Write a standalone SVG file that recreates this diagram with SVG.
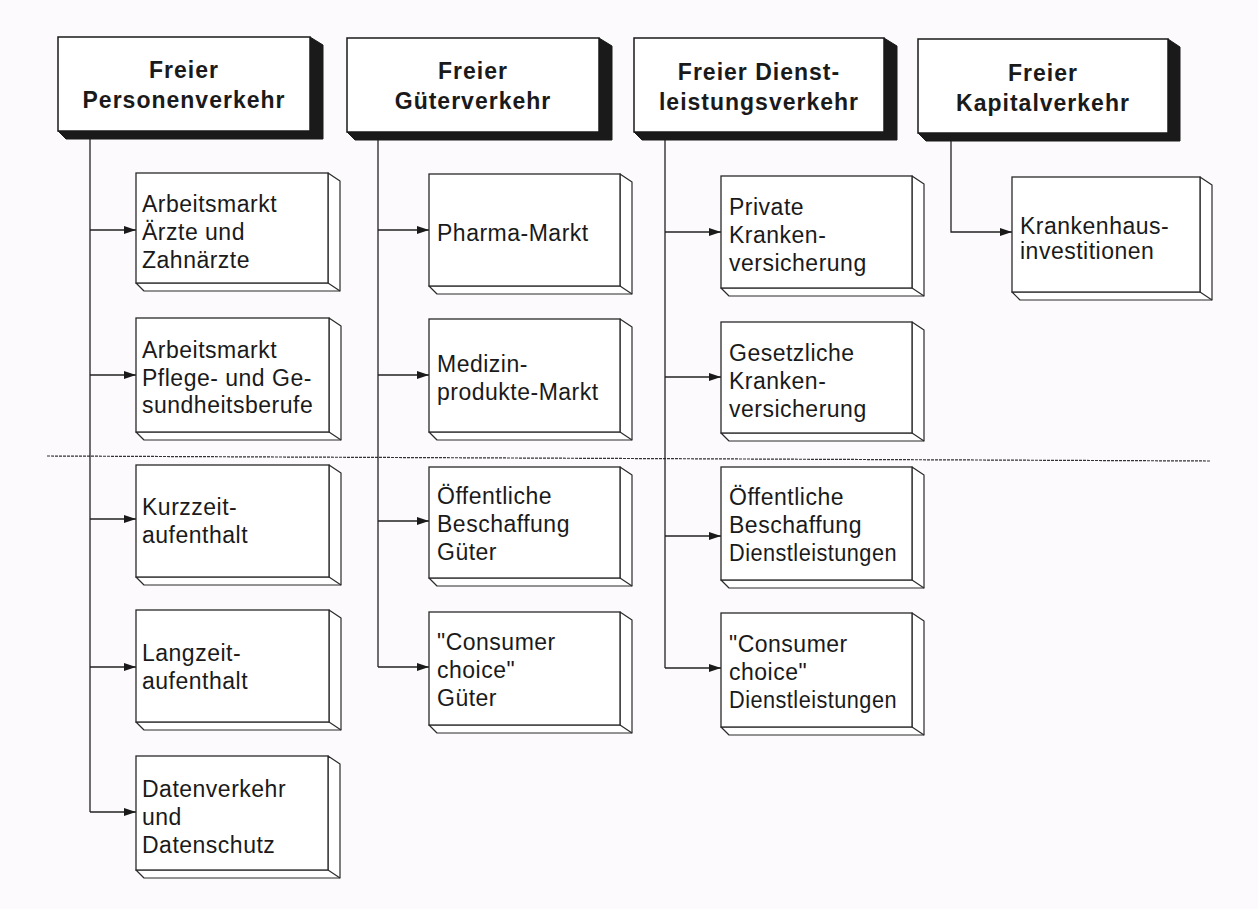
<svg xmlns="http://www.w3.org/2000/svg" width="1258" height="909" viewBox="0 0 1258 909">
<style>
.bg{fill:#fdfafd}
.hf{fill:#fff;stroke:#1a1a1a;stroke-width:1.5}
.hs{fill:#1a1a1a;stroke:#1a1a1a;stroke-width:1}
.cf{fill:#fff;stroke:#2a2a2a;stroke-width:1.3}
.ce{fill:#fff;stroke:#2a2a2a;stroke-width:1.2;stroke-linejoin:round}
.ht{font-family:"Liberation Sans",Arial,sans-serif;font-weight:bold;font-size:23px;letter-spacing:1px;fill:#1a1a1a;text-anchor:middle}
.ct{font-family:"Liberation Sans",Arial,sans-serif;font-size:23px;letter-spacing:0.5px;fill:#1a1a1a}
.ln{fill:none;stroke:#222;stroke-width:1.3}
.sep{stroke:#333;stroke-width:1.2;stroke-dasharray:3 1}
</style>
<defs>
<marker id="ar" viewBox="0 0 12 8" refX="12" refY="4" markerWidth="12" markerHeight="8" markerUnits="userSpaceOnUse" orient="auto">
<path d="M0,0 L12,4 L0,8 Z" fill="#1a1a1a"/>
</marker>
</defs>
<rect class="bg" width="1258" height="909"/>
<line class="sep" x1="47" y1="456" x2="1210" y2="461"/>

<g id="connectors">
<path class="ln" d="M90,131 V812"/>
<path class="ln" d="M90,230 H136" marker-end="url(#ar)"/>
<path class="ln" d="M90,375 H136" marker-end="url(#ar)"/>
<path class="ln" d="M90,519 H136" marker-end="url(#ar)"/>
<path class="ln" d="M90,667 H136" marker-end="url(#ar)"/>
<path class="ln" d="M90,812 H136" marker-end="url(#ar)"/>
<path class="ln" d="M378,133 V667"/>
<path class="ln" d="M378,230 H429" marker-end="url(#ar)"/>
<path class="ln" d="M378,375 H429" marker-end="url(#ar)"/>
<path class="ln" d="M378,521 H429" marker-end="url(#ar)"/>
<path class="ln" d="M378,667 H429" marker-end="url(#ar)"/>
<path class="ln" d="M665,133 V668"/>
<path class="ln" d="M665,232 H721" marker-end="url(#ar)"/>
<path class="ln" d="M665,377 H721" marker-end="url(#ar)"/>
<path class="ln" d="M665,536 H721" marker-end="url(#ar)"/>
<path class="ln" d="M665,668 H721" marker-end="url(#ar)"/>
<path class="ln" d="M951,134 V232 H1012" marker-end="url(#ar)"/>
</g>

<g id="h1">
<polygon class="hs" points="310,37 323,45 323,139 66,139 58,131 310,131"/>
<rect class="hf" x="58" y="37" width="252" height="94"/>
<text class="ht" x="184" y="78">Freier</text>
<text class="ht" x="184" y="108">Personenverkehr</text>
</g>
<g id="h2">
<polygon class="hs" points="599,38 612,46 612,140 355,140 347,132 599,132"/>
<rect class="hf" x="347" y="38" width="252" height="94"/>
<text class="ht" x="473" y="79">Freier</text>
<text class="ht" x="473" y="109">Güterverkehr</text>
</g>
<g id="h3">
<polygon class="hs" points="884,38 897,46 897,140 642,140 634,132 884,132"/>
<rect class="hf" x="634" y="38" width="250" height="94"/>
<text class="ht" x="759" y="80">Freier Dienst-</text>
<text class="ht" x="759" y="110">leistungsverkehr</text>
</g>
<g id="h4">
<polygon class="hs" points="1168,39 1180,47 1180,141 926,141 918,133 1168,133"/>
<rect class="hf" x="918" y="39" width="250" height="94"/>
<text class="ht" x="1043" y="81">Freier</text>
<text class="ht" x="1043" y="111">Kapitalverkehr</text>
</g>

<g id="c1r1">
<polygon class="ce" points="328,173 340,181 340,291 144,291 136,283 328,283"/>
<line class="ce" x1="328" y1="283" x2="340" y2="291"/>
<rect class="cf" x="136" y="173" width="192" height="110"/>
<text class="ct" x="142" y="212">Arbeitsmarkt</text>
<text class="ct" x="142" y="240">Ärzte und</text>
<text class="ct" x="142" y="268">Zahnärzte</text>
</g>
<g id="c1r2">
<polygon class="ce" points="329,318 341,326 341,440 144,440 136,432 329,432"/>
<line class="ce" x1="329" y1="432" x2="341" y2="440"/>
<rect class="cf" x="136" y="318" width="193" height="114"/>
<text class="ct" x="142" y="358">Arbeitsmarkt</text>
<text class="ct" x="142" y="386">Pflege- und Ge-</text>
<text class="ct" x="142" y="413">sundheitsberufe</text>
</g>
<g id="c1r3">
<polygon class="ce" points="329,465 341,473 341,585 144,585 136,577 329,577"/>
<line class="ce" x1="329" y1="577" x2="341" y2="585"/>
<rect class="cf" x="136" y="465" width="193" height="112"/>
<text class="ct" x="142" y="515">Kurzzeit-</text>
<text class="ct" x="142" y="543">aufenthalt</text>
</g>
<g id="c1r4">
<polygon class="ce" points="329,610 341,618 341,730 144,730 136,722 329,722"/>
<line class="ce" x1="329" y1="722" x2="341" y2="730"/>
<rect class="cf" x="136" y="610" width="193" height="112"/>
<text class="ct" x="142" y="661">Langzeit-</text>
<text class="ct" x="142" y="689">aufenthalt</text>
</g>
<g id="c1r5">
<polygon class="ce" points="328,756 340,764 340,878 144,878 136,870 328,870"/>
<line class="ce" x1="328" y1="870" x2="340" y2="878"/>
<rect class="cf" x="136" y="756" width="192" height="114"/>
<text class="ct" x="142" y="797">Datenverkehr</text>
<text class="ct" x="142" y="825">und</text>
<text class="ct" x="142" y="853">Datenschutz</text>
</g>

<g id="c2r1">
<polygon class="ce" points="620,174 632,182 632,294 437,294 429,286 620,286"/>
<line class="ce" x1="620" y1="286" x2="632" y2="294"/>
<rect class="cf" x="429" y="174" width="191" height="112"/>
<text class="ct" x="437" y="241">Pharma-Markt</text>
</g>
<g id="c2r2">
<polygon class="ce" points="620,319 632,327 632,440 437,440 429,432 620,432"/>
<line class="ce" x1="620" y1="432" x2="632" y2="440"/>
<rect class="cf" x="429" y="319" width="191" height="113"/>
<text class="ct" x="437" y="372">Medizin-</text>
<text class="ct" x="437" y="400">produkte-Markt</text>
</g>
<g id="c2r3">
<polygon class="ce" points="620,467 632,475 632,586 437,586 429,578 620,578"/>
<line class="ce" x1="620" y1="578" x2="632" y2="586"/>
<rect class="cf" x="429" y="467" width="191" height="111"/>
<text class="ct" x="437" y="504">Öffentliche</text>
<text class="ct" x="437" y="532">Beschaffung</text>
<text class="ct" x="437" y="560">Güter</text>
</g>
<g id="c2r4">
<polygon class="ce" points="620,612 632,620 632,733 437,733 429,725 620,725"/>
<line class="ce" x1="620" y1="725" x2="632" y2="733"/>
<rect class="cf" x="429" y="612" width="191" height="113"/>
<text class="ct" x="437" y="650">"Consumer</text>
<text class="ct" x="437" y="678">choice"</text>
<text class="ct" x="437" y="706">Güter</text>
</g>

<g id="c3r1">
<polygon class="ce" points="912,176 924,184 924,296 729,296 721,288 912,288"/>
<line class="ce" x1="912" y1="288" x2="924" y2="296"/>
<rect class="cf" x="721" y="176" width="191" height="112"/>
<text class="ct" x="729" y="215">Private</text>
<text class="ct" x="729" y="243">Kranken-</text>
<text class="ct" x="729" y="271">versicherung</text>
</g>
<g id="c3r2">
<polygon class="ce" points="912,322 924,330 924,441 729,441 721,433 912,433"/>
<line class="ce" x1="912" y1="433" x2="924" y2="441"/>
<rect class="cf" x="721" y="322" width="191" height="111"/>
<text class="ct" x="729" y="361">Gesetzliche</text>
<text class="ct" x="729" y="389">Kranken-</text>
<text class="ct" x="729" y="417">versicherung</text>
</g>
<g id="c3r3">
<polygon class="ce" points="912,467 924,475 924,588 729,588 721,580 912,580"/>
<line class="ce" x1="912" y1="580" x2="924" y2="588"/>
<rect class="cf" x="721" y="467" width="191" height="113"/>
<text class="ct" x="729" y="505">Öffentliche</text>
<text class="ct" x="729" y="533">Beschaffung</text>
<text class="ct" x="729" y="561" letter-spacing="0" textLength="168" lengthAdjust="spacingAndGlyphs">Dienstleistungen</text>
</g>
<g id="c3r4">
<polygon class="ce" points="912,613 924,621 924,735 729,735 721,727 912,727"/>
<line class="ce" x1="912" y1="727" x2="924" y2="735"/>
<rect class="cf" x="721" y="613" width="191" height="114"/>
<text class="ct" x="729" y="652">"Consumer</text>
<text class="ct" x="729" y="680">choice"</text>
<text class="ct" x="729" y="708" letter-spacing="0" textLength="168" lengthAdjust="spacingAndGlyphs">Dienstleistungen</text>
</g>

<g id="c4r1">
<polygon class="ce" points="1200,177 1212,185 1212,300 1020,300 1012,292 1200,292"/>
<line class="ce" x1="1200" y1="292" x2="1212" y2="300"/>
<rect class="cf" x="1012" y="177" width="188" height="115"/>
<text class="ct" x="1020" y="234">Krankenhaus-</text>
<text class="ct" x="1020" y="259">investitionen</text>
</g>
</svg>
